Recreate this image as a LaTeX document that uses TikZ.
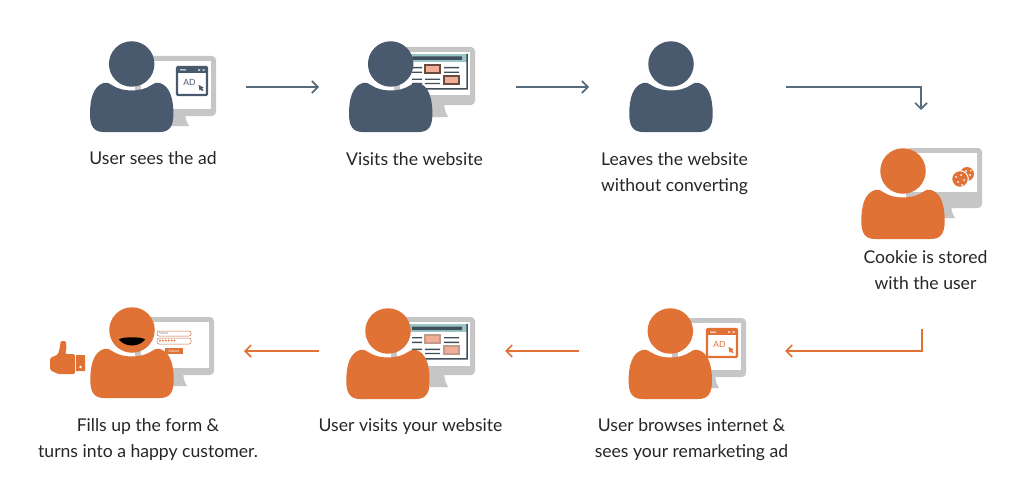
\documentclass[tikz,border=0pt]{standalone}
\usepackage{fontspec}
\setmainfont{Lato}
\definecolor{navy}{HTML}{4A5A6E}
\definecolor{orng}{HTML}{E07236}
\definecolor{mongray}{HTML}{C6C6C6}
\definecolor{navyline}{HTML}{566B7B}
\definecolor{pinkbox}{HTML}{EFAE95}
\definecolor{tealbar}{HTML}{9CC7C9}
\definecolor{darkbar}{HTML}{3F4F5C}
\definecolor{boxedge}{HTML}{6B4A40}
\definecolor{txt}{HTML}{262626}
\usetikzlibrary{arrows.meta}
\tikzset{
 x=1pt,y=-1pt,
 caption/.style={align=center,font=\fontsize{17.6}{26}\selectfont,text=txt,inner sep=0pt},
 flowline/.style={line width=1.6pt,-{Straight Barb[length=6pt,width=12pt,line width=1.6pt]}},
 tiny label/.style={inner sep=0pt,font=\fontsize{#1}{#1}\selectfont},
}
% head x, head y, colour, name
\newcommand\person[4]{%
 \begin{scope}[shift={(#1,#2)}]
 \fill[#3] (-41.7,50) .. controls (-41.7,34) and (-38,22) .. (-28,19)
   .. controls (-25,18) and (-23,19) .. (-20,21)
   .. controls (-14,25) and (-7,26.5) .. (0,26.5)
   .. controls (7,26.5) and (14,25) .. (20,21)
   .. controls (23,19) and (25,18) .. (28,19)
   .. controls (38,22) and (41.7,34) .. (41.7,50)
   .. controls (41.7,62) and (38,68) .. (28,68)
   -- (-28,68) .. controls (-38,68) and (-41.7,62) .. (-41.7,50) -- cycle;
 \node[circle,fill=#3,minimum size=45.5pt,inner sep=0pt] (#4) at (0,0) {};
 \end{scope}}
% left, top, right, chin bottom, screen bottom, stand bottom
\newcommand\monitorshape[6]{%
 \fill[mongray,rounded corners=4pt] (#1,#2) rectangle (#3,#4);
 \fill[white] (#1+6,#2+5) rectangle (#3-5,#5);
 \fill[mongray] (#3-45,#4-2) -- (#3-31,#4-2) .. controls (#3-30,#6-5) and (#3-29,#6-3) .. (#3-27,#6) -- (#3-45,#6) -- cycle;}
% left, top of ad window, colour, name
\newcommand\adwindow[4]{%
 \draw[#3,line width=2.2pt,fill=white,rounded corners=1pt] (#1,#2) rectangle (#1+30,#2+28);
 \fill[#3] (#1,#2) rectangle (#1+30,#2+6);
 \fill[white] (#1+3,#2+2.5) rectangle (#1+9,#2+3.5) (#1+21,#2+2.3) rectangle (#1+23,#2+3.7) (#1+25.5,#2+2.3) rectangle (#1+27.5,#2+3.7);
 \node[tiny label=8.5,text=#3] (#4) at (#1+12.5,#2+15.5) {AD};
 \fill[#3] (#1+21.5,#2+18) -- (#1+26.5,#2+20.5) -- (#1+25,#2+21.5) -- (#1+26.5,#2+23.5) -- (#1+25,#2+24) -- (#1+23.5,#2+22.5) -- (#1+22.5,#2+23.5) -- cycle;}
% window right, top (frame), line colour, box border
\newcommand\website[4]{%
 \begin{scope}[shift={(#1,#2)}]
 \fill[tealbar] (-58,0) rectangle (0,8);
 \fill[#3,rounded corners=.5pt] (-55,2.5) rectangle (-5,6);
 \fill[#3] (-58,34.2) rectangle (0,35.6) (-.6,0) rectangle (.8,35.6);
 \fill[#3] (-55,13) rectangle (-45,14.4) (-55,17.6) rectangle (-45,19) (-55,24.6) rectangle (-45,26) (-55,28.8) rectangle (-45,30.2)
  (-42,24.6) rectangle (-27,26) (-42,28.8) rectangle (-27,30.2)
  (-23,13) rectangle (-8,14.4) (-23,17.6) rectangle (-8,19);
 \draw[#4,line width=1.2pt,fill=pinkbox] (-42,11) rectangle (-27,19);
 \draw[#4,line width=1.2pt,fill=pinkbox] (-23,22) rectangle (-8,30);
 \end{scope}}
\begin{document}
\begin{tikzpicture}
\useasboundingbox (0,0) rectangle (1034,503);
\fill[white] (0,0) rectangle (1034,503);
% P1
\monitorshape{135}{56}{216}{116}{109}{126}
\adwindow{177}{67}{navy}{adA}
\person{131.7}{64}{navy}{p1}
% P2
\monitorshape{394}{47}{475}{105}{95}{117}
\website{467}{54}{darkbar}{boxedge}
\person{390.7}{64}{navy}{p2}
% P3
\person{671}{64}{navy}{p3}
% P4
\monitorshape{906}{148}{982}{208}{192}{218}
\fill[orng] (967,174) circle (7);
\draw[white,line width=1pt,fill=orng] (960,179) circle (8.3);
\fill[white] (956,177) circle (1) (961,175) circle (1) (964,180) circle (1) (958,182) circle (1) (962,185) circle (1) (966,171) circle (1) (970,175) circle (1) (971,170.5) circle (.8);
\person{903}{171}{orng}{p4}
% P5
\monitorshape{672}{318}{746}{377}{370}{388}
\adwindow{707}{329}{orng}{adB}
\person{670.3}{331}{orng}{p5}
% P6
\monitorshape{391}{317}{475}{375}{366}{387}
\website{467}{324}{darkbar}{pinkbox!60!gray}
\person{388}{331}{orng}{p6}
% P7
\monitorshape{135}{317}{214}{375}{368}{386}
\draw[orng!70!gray,line width=.5pt,rounded corners=2pt,fill=white] (157,331) rectangle (191,336) (157,338) rectangle (191,344);
\node[tiny label=3.5,text=gray,anchor=west] (fname) at (159,333.5) {Name};
\node[tiny label=5,text=orng,anchor=west] (fpass) at (158.5,340.8) {••••••};
\node[fill=orng,text=white,tiny label=3.5,minimum width=18pt,minimum height=6pt] (fsubmit) at (174,351) {Submit};
\person{132}{330}{orng}{p7}
\fill[black] (119,339.5) .. controls (122,336.5) and (142,336.5) .. (145,339.5) .. controls (143,343) and (137,345.5) .. (132,345.5) .. controls (127,345.5) and (121,343) .. (119,339.5) -- cycle;
% thumb
\fill[orng,rounded corners=1.5pt] (50,358) -- (58,354.5) -- (60,347) -- (60.5,341) -- (66,341) -- (66.5,349) -- (65,354) -- (75,354) -- (75,374) -- (58,374) -- (50,370) -- cycle;
\fill[orng,rounded corners=.5pt] (76,355) rectangle (85,371);
\fill[white] (80.5,367) circle (1.3);
% connector ends
\coordinate (a1s) at (246,87); \coordinate (a1e) at (319,87);
\coordinate (a2s) at (516,87); \coordinate (a2e) at (589,87);
\coordinate (a3s) at (786,87); \coordinate (a3m) at (921,87); \coordinate (a3e) at (921,110);
\coordinate (a4s) at (922,329); \coordinate (a4m) at (922,351); \coordinate (a4e) at (785,351);
\coordinate (a5s) at (579,351); \coordinate (a5e) at (505,351);
\coordinate (a6s) at (319,351); \coordinate (a6e) at (244,351);
\draw[flowline,navyline] (a1s) -- (a1e);
\draw[flowline,navyline] (a2s) -- (a2e);
\draw[flowline,navyline] (a3s) -- (a3m) -- (a3e);
\draw[flowline,orng] (a4s) -- (a4m) -- (a4e);
\draw[flowline,orng] (a5s) -- (a5e);
\draw[flowline,orng] (a6s) -- (a6e);
% captions
\node[caption] (t1) at (153,158) {User sees the ad};
\node[caption] (t2) at (414.5,159) {Visits the website};
\node[caption] (t3) at (674.5,173.5) {Leaves the website\\without converting};
\node[caption] (t4) at (925.5,270) {Cookie is stored\\with the user};
\node[caption] (t5) at (691.5,440) {User browses internet \&\\sees your remarketing ad};
\node[caption] (t6) at (410.5,427) {User visits your website};
\node[caption] (t7) at (148,440) {Fills up the form \&\\turns into a happy customer.};
\end{tikzpicture}
\end{document}
